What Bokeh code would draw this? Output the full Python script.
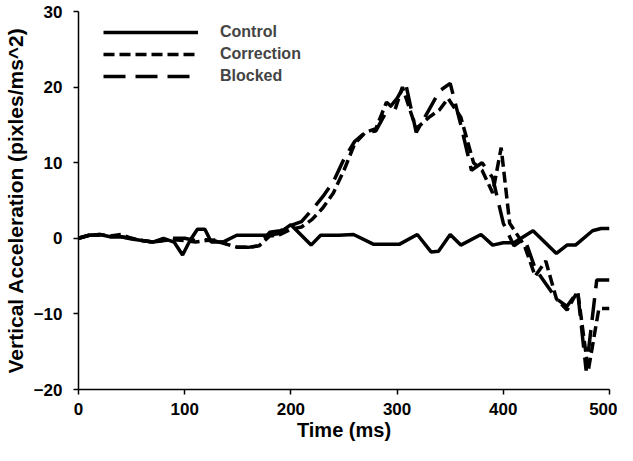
from bokeh.plotting import figure
from bokeh.models import Legend, LegendItem, FixedTicker, Range1d
from bokeh.embed import file_html
from bokeh.resources import INLINE

# Control (solid)
control_t = [0, 10, 20, 30, 40, 50, 60, 70, 80, 90, 98, 105, 112, 119, 125, 136, 149, 176, 188, 200,
             219, 228, 245, 259, 278, 302, 319, 332, 339, 350, 360, 379, 390, 400, 410, 428, 450, 460,
             468, 484, 492, 500]
control_v = [0, 0.4, 0.5, 0.2, 0.2, -0.1, -0.3, -0.5, 0.0, -0.5, -2.2, -0.3, 1.2, 1.2, -0.5, -0.5, 0.4, 0.4,
             0.6, 1.8, -0.9, 0.4, 0.4, 0.5, -0.8, -0.8, 0.5, -1.8, -1.7, 0.5, -0.9, 0.5, -0.9, -0.6, -0.6,
             1.0, -2.0, -0.9, -0.9, 1.0, 1.3, 1.3]

# Correction (short dashes)
correction_t = [0, 10, 20, 30, 40, 50, 60, 70, 80, 90, 100, 110, 120, 130, 140, 150, 160, 170, 180, 190,
                200, 210, 220, 230, 240, 250, 260, 270, 280, 290, 298, 305, 318, 330, 340, 348, 360, 372,
                380, 390, 398, 406, 420, 430, 440, 450, 460, 470, 480, 490, 500]
correction_v = [0, 0.4, 0.5, 0.3, 0.5, 0.0, -0.3, -0.5, -0.3, -0.2, -0.3, -0.5, -0.3, -0.2, -0.8, -1.2, -1.2,
                -1.0, 0.3, 0.5, 1.2, 1.5, 2.5, 4.0, 6.0, 9.0, 12.5, 14.0, 14.5, 18.0, 17.0, 20.0, 14.5, 16.0,
                17.0, 18.5, 16.0, 10.0, 9.0, 6.0, 12.0, 2.0, -1.0, -5.0, -3.0, -8.0, -9.5, -7.0, -17.5, -9.3,
                -9.3]

# Blocked (long dashes)
blocked_t = [0, 10, 20, 30, 40, 50, 60, 70, 80, 90, 100, 110, 120, 130, 140, 150, 160, 170, 180, 190,
             200, 210, 220, 230, 240, 250, 260, 270, 280, 290, 300, 308, 318, 330, 340, 350, 360, 370,
             380, 390, 400, 410, 420, 430, 440, 450, 460, 470, 478, 488, 500]
blocked_v = [0, 0.4, 0.4, 0.2, 0.2, 0.0, -0.3, -0.5, -0.3, 0.0, 0.0, -0.3, -0.2, -0.4, -0.8, -1.2, -1.2,
             -1.0, 0.8, 1.0, 1.7, 2.2, 3.8, 5.5, 7.5, 10.5, 12.8, 14.0, 14.2, 16.8, 18.5, 20.5, 14.0, 17.0,
             19.5, 20.5, 15.0, 9.0, 10.0, 8.0, 2.0, -1.0, 0.0, -4.0, -6.0, -8.0, -9.0, -7.0, -17.5, -5.5,
             -5.5]

x_ticks = [0, 100, 200, 300, 400, 500]
y_ticks = [-20, -10, 0, 10, 20, 30]

FONT = "Liberation Sans"
W, H = 617, 445
B_LEFT, B_RIGHT, B_TOP, B_BOTTOM = 69, 8, 11, 56

p = figure(width=W, height=H, output_backend="svg", toolbar_location=None,
           x_range=Range1d(0, 500), y_range=Range1d(-20, 30),
           min_border_left=B_LEFT, min_border_right=B_RIGHT,
           min_border_top=B_TOP, min_border_bottom=B_BOTTOM)
p.outline_line_color = None
p.grid.visible = False
p.background_fill_color = "white"

r_c = p.line(control_t, control_v, line_color="black", line_width=3.5)
r_k = p.line(correction_t, correction_v, line_color="black", line_width=3.5, line_dash="11 5")
r_b = p.line(blocked_t, blocked_v, line_color="black", line_width=3.5, line_dash="22 10")

for ax in (p.xaxis[0], p.yaxis[0]):
    ax.axis_line_color = "black"
    ax.axis_line_width = 1.5
    ax.major_tick_line_color = "black"
    ax.major_tick_line_width = 1.5
    ax.major_tick_out = 5
    ax.major_tick_in = 0
    ax.minor_tick_line_color = None
    ax.major_label_text_font = FONT
    ax.major_label_text_font_style = "bold"
    ax.major_label_text_font_size = "17px"
    ax.major_label_text_color = "black"
    ax.axis_label_text_font = FONT
    ax.axis_label_text_font_style = "bold"
    ax.axis_label_text_color = "black"

p.xaxis[0].axis_label_text_font_size = "20px"
p.yaxis[0].axis_label_text_font_size = "21px"
p.xaxis[0].ticker = FixedTicker(ticks=x_ticks)
p.yaxis[0].ticker = FixedTicker(ticks=y_ticks)
p.xaxis[0].major_label_standoff = 8
p.xaxis[0].axis_label_standoff = 1
p.yaxis[0].major_label_standoff = 11
p.yaxis[0].axis_label_standoff = 4
p.xaxis[0].axis_label = "Time (ms)"
p.yaxis[0].axis_label = "Vertical Acceleration (pixles/ms^2)"

frame_h = H - B_TOP - B_BOTTOM
row_h = 22
legend = Legend(items=[LegendItem(label="Control", renderers=[r_c]),
                       LegendItem(label="Correction", renderers=[r_k]),
                       LegendItem(label="Blocked", renderers=[r_b])],
                location=(25, frame_h - 10 - 3 * row_h))
legend.border_line_color = None
legend.background_fill_alpha = 0
legend.glyph_width = 95
legend.glyph_height = row_h
legend.spacing = 0
legend.padding = 0
legend.margin = 0
legend.label_text_font = FONT
legend.label_text_font_style = "bold"
legend.label_text_font_size = "16px"
legend.label_standoff = 22
legend.label_height = row_h
p.add_layout(legend)

open("out.html", "w").write(file_html(p, INLINE))
